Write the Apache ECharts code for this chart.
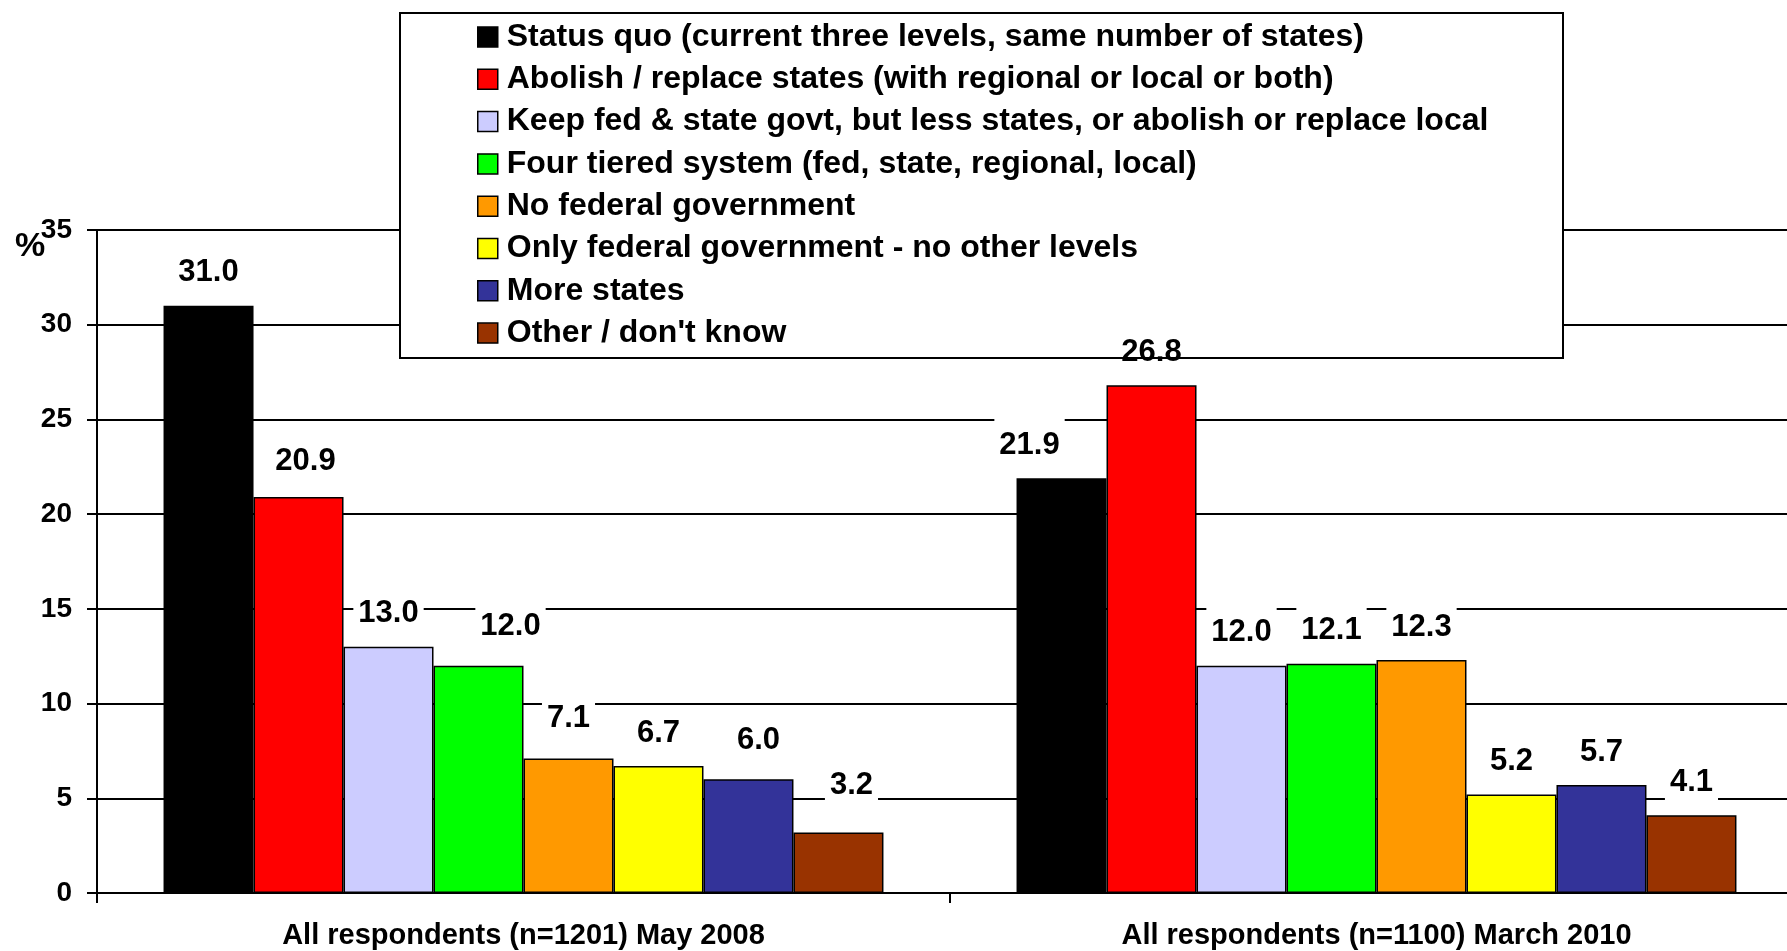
<!DOCTYPE html>
<html>
<head>
<meta charset="utf-8">
<script src="https://cdn.jsdelivr.net/npm/echarts@6/dist/echarts.min.js"></script>
<style>
  html, body { margin: 0; padding: 0; background: #fff; }
  #chart { width: 1787px; height: 951px; }
</style>
</head>
<body>
<div id="chart"></div>
<script>
// ---- data ----
const categories = ['All respondents (n=1201) May 2008', 'All respondents (n=1100) March 2010'];
const seriesNames = [
  'Status quo (current three levels, same number of states)',
  'Abolish / replace states (with regional or local or both)',
  'Keep fed & state govt, but less states, or abolish or replace local',
  'Four tiered system (fed, state, regional, local)',
  'No federal government',
  'Only federal government - no other levels',
  'More states',
  "Other / don't know"
];
const values2008 = [31.0, 20.9, 13.0, 12.0, 7.1, 6.7, 6.0, 3.2];
const values2010 = [21.9, 26.8, 12.0, 12.1, 12.3, 5.2, 5.7, 4.1];
const yTickValues = [0, 5, 10, 15, 20, 25, 30, 35];

// ---- styling ----
const colors = ['#000000', '#FF0000', '#CCCCFF', '#00FF00', '#FF9900', '#FFFF00', '#333399', '#993300'];
// manual nudges of a few value labels, as in the original
const labelNudge2008 = [[0, 0], [7, -3], [0, 0], [32, -6], [0, -7], [0, 0], [10, -6], [13, -14]];
const labelNudge2010 = [[-32, 0], [0, 0], [0, 0], [0, 0], [0, 0], [0, 0], [0, 0], [0, 0]];
const FONT = "'Liberation Sans', Arial, Helvetica, sans-serif";

const chart = echarts.init(document.getElementById('chart'), null, { renderer: 'canvas' });

const series = seriesNames.map((name, i) => {
  const mk = (v, nudge, noBg) => ({
    value: v,
    label: Object.assign({ offset: nudge }, noBg ? { backgroundColor: 'transparent' } : {})
  });
  return {
    name,
    type: 'bar',
    barGap: '0%',
    barCategoryGap: '15.6%',
    itemStyle: { color: colors[i], borderColor: '#000', borderWidth: 1.5 },
    label: {
      show: true,
      position: 'top',
      distance: 11.5,
      color: '#000',
      fontFamily: FONT,
      fontWeight: 'bold',
      fontSize: 31,
      backgroundColor: '#fff',
      padding: [11, 5, 6, 5],
      formatter: p => Number(p.value).toFixed(1)
    },
    emphasis: { disabled: true },
    data: [
      mk(values2008[i], labelNudge2008[i], false),
      mk(values2010[i], labelNudge2010[i], values2010[i] === 26.8)
    ]
  };
});

const option = {
  animation: false,
  backgroundColor: '#fff',
  grid: {
    left: 97, right: -16, top: 230, bottom: 58,
    containLabel: false,
    outerBoundsMode: 'none'
  },
  legend: {
    orient: 'vertical',
    left: 477,
    top: 21,
    padding: 0,
    itemWidth: 20,
    itemHeight: 20,
    itemGap: 10.3,
    icon: 'rect',
    selectedMode: false,
    z: 4,
    itemStyle: { borderColor: '#000', borderWidth: 1.5 },
    textStyle: {
      color: '#000', fontFamily: FONT, fontWeight: 'bold', fontSize: 32, lineHeight: 32,
      padding: [0, 0, 0, 4]
    },
    data: seriesNames
  },
  xAxis: {
    type: 'category',
    data: categories,
    boundaryGap: true,
    axisLine: { show: true, lineStyle: { color: '#000', width: 2 } },
    axisTick: { show: true, length: 10, interval: 0, lineStyle: { color: '#000', width: 2 } },
    axisLabel: {
      interval: 0, margin: 28, color: '#000',
      fontFamily: FONT, fontWeight: 'bold', fontSize: 29
    },
    splitLine: { show: false }
  },
  yAxis: {
    type: 'value',
    min: yTickValues[0],
    max: yTickValues[yTickValues.length - 1],
    interval: yTickValues[1] - yTickValues[0],
    axisLine: { show: true, lineStyle: { color: '#000', width: 2 } },
    axisTick: { show: true, length: 10, lineStyle: { color: '#000', width: 2 } },
    axisLabel: {
      margin: 25, color: '#000',
      fontFamily: FONT, fontWeight: 'bold', fontSize: 28
    },
    splitLine: { show: true, lineStyle: { color: '#000', width: 2 } }
  },
  graphic: [
    {
      type: 'rect',
      z: 1,
      shape: { x: 400, y: 13, width: 1163, height: 345 },
      style: { fill: '#fff', stroke: '#000', lineWidth: 2 }
    },
    {
      type: 'text',
      z: 5,
      x: 15, y: 247,
      style: {
        text: '%', fill: '#000',
        font: "bold 34px 'Liberation Sans', Arial, sans-serif",
        verticalAlign: 'middle', align: 'left'
      }
    }
  ],
  series
};

chart.setOption(option);
</script>
</body>
</html>
